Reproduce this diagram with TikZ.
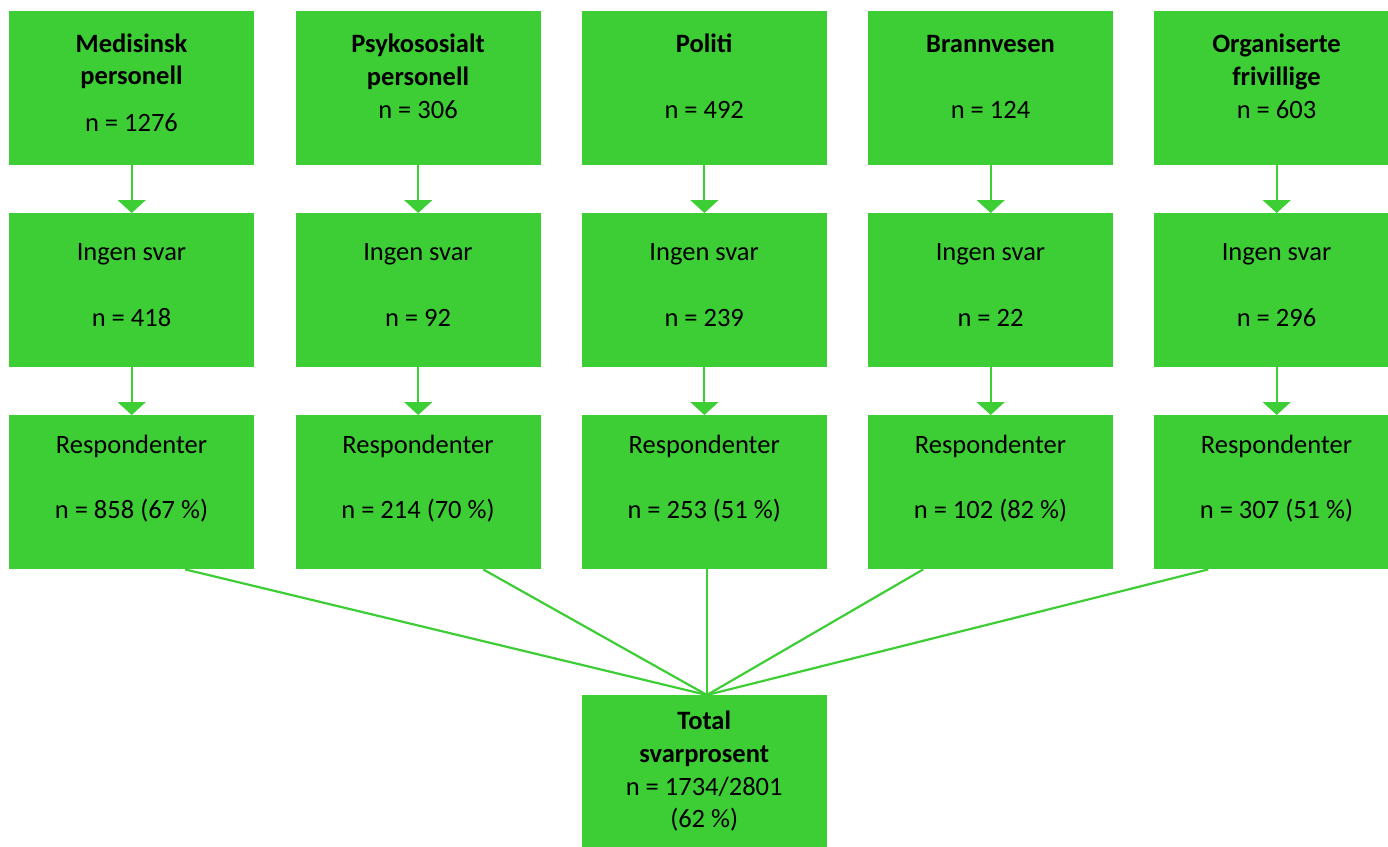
\documentclass[tikz,border=0pt]{standalone}
\usepackage{fontspec}
\setmainfont{Carlito}
\usetikzlibrary{arrows.meta,calc}
\definecolor{boxgreen}{RGB}{61,206,54}
\begin{document}
\begin{tikzpicture}[x=1pt,y=-1pt,
  box/.style={fill=boxgreen, draw=none, minimum width=245pt, minimum height=154pt, inner sep=0pt, anchor=north west},
  txt/.style={anchor=base, inner sep=0pt, text=black, font=\fontsize{26.5}{32}\selectfont},
  bold/.style={anchor=base, inner sep=0pt, text=black, font=\fontsize{26.5}{32}\selectfont\bfseries},
  arr/.style={draw=boxgreen, line width=2pt, -{Triangle[width=28pt,length=13pt]}},
  link/.style={draw=boxgreen, line width=2.2pt}]
\useasboundingbox (0,0) rectangle (1388,846);
% boxes
\foreach \c/\x in {1/9,2/295.5,3/581.7,4/868,5/1154}{
  \node[box] (a\c) at (\x,11) {};
  \node[box] (b\c) at (\x,213) {};
  \node[box] (r\c) at (\x,415) {};
}
\node[box, minimum height=155pt] (tot) at (581.7,695) {};
% row 1 texts
\node[bold] (a1t1) at (131.5,52) {Medisinsk};
\node[bold] (a1t2) at (131.5,84) {personell};
\node[txt]  (a1n)  at (131.5,131) {n = 1276};
\node[bold] (a2t1) at (418,52) {Psykososialt};
\node[bold] (a2t2) at (418,85) {personell};
\node[txt]  (a2n)  at (418,118) {n = 306};
\node[bold] (a3t1) at (704.2,52) {Politi};
\node[txt]  (a3n)  at (704.2,118) {n = 492};
\node[bold] (a4t1) at (990.5,52) {Brannvesen};
\node[txt]  (a4n)  at (990.5,118) {n = 124};
\node[bold] (a5t1) at (1276.5,52) {Organiserte};
\node[bold] (a5t2) at (1276.5,85) {frivillige};
\node[txt]  (a5n)  at (1276.5,118) {n = 603};
% rows 2 and 3
\foreach \c/\x/\m/\r in {1/131.5/418/858 (67 \%),2/418/92/214 (70 \%),3/704.2/239/253 (51 \%),4/990.5/22/102 (82 \%),5/1276.5/296/307 (51 \%)}{
  \node[txt] (b\c t) at (\x,260) {Ingen svar};
  \node[txt] (b\c n) at (\x,326) {n = \m};
  \node[txt] (r\c t) at (\x,453) {Respondenter};
  \node[txt] (r\c n) at (\x,518) {n = \r};
  \draw[arr] (a\c.south) -- (b\c.north);
  \draw[arr] (b\c.south) -- (r\c.north);
}
% total
\node[bold] (tt1) at (704.2,729) {Total};
\node[bold] (tt2) at (704.2,762) {svarprosent};
\node[txt]  (tt3) at (704.2,795) {n = 1734/2801};
\node[txt]  (tt4) at (704.2,827) {(62 \%)};
% links
\coordinate (s1) at ($(r1.south)+(53.5,0)$);
\coordinate (s2) at ($(r2.south)+(65,0)$);
\coordinate (s3) at ($(r3.south)+(2.5,0)$);
\coordinate (s4) at ($(r4.south)+(-67.5,0)$);
\coordinate (s5) at ($(r5.south)+(-68.5,0)$);
\coordinate (tn) at ($(tot.north)+(2.5,0)$);
\foreach \c in {1,...,5}{ \draw[link] (s\c) -- (tn); }
\end{tikzpicture}
\end{document}
